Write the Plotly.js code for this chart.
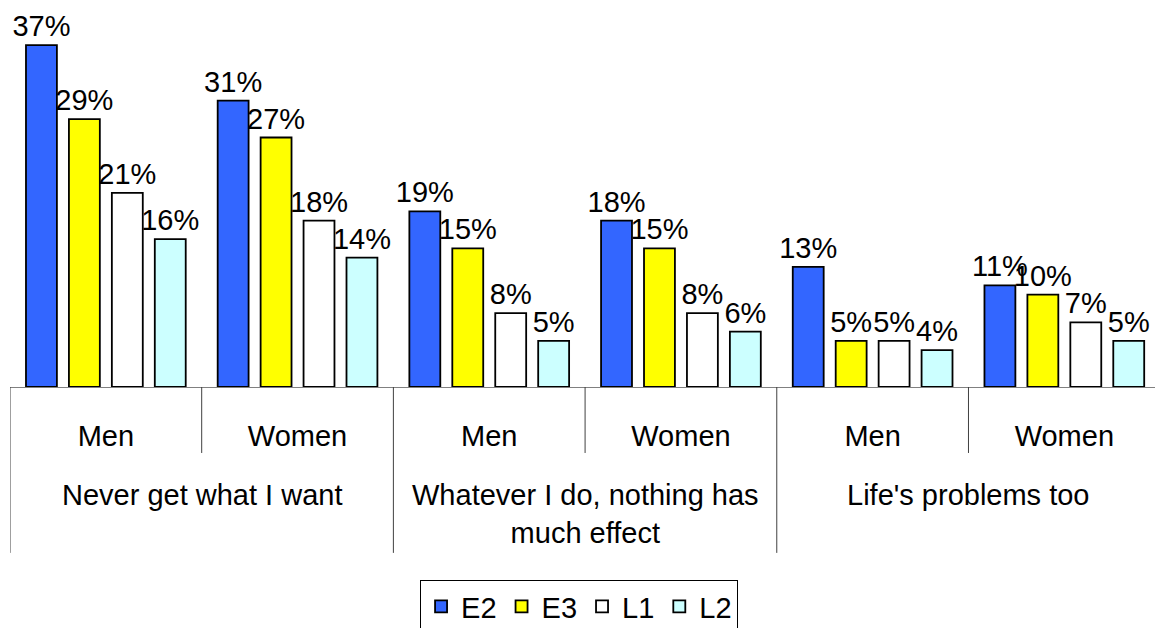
<!DOCTYPE html>
<html>
<head>
<meta charset="utf-8">
<script src="https://cdn.plot.ly/plotly-3.0.1.min.js"></script>
<style>
  html, body { margin: 0; padding: 0; background: #fff; }
  #chart { width: 1155px; height: 628px; }
</style>
</head>
<body>
<div id="chart"></div>
<script>
// categories
var outer = ['Never get what I want', 'Whatever I do, nothing has<br>much effect', "Life's problems too"];
var inner = ['Men', 'Women'];

// series values (%)
var e2 = [37, 31, 19, 18, 13, 11];
var e3 = [29, 27, 15, 15, 5, 10];
var l1 = [21, 18, 8, 8, 5, 7];
var l2 = [16, 14, 5, 6, 4, 5];

var seriesNames = ['E2', 'E3', 'L1', 'L2'];
var seriesVals = [e2, e3, l1, l2];
var seriesColors = ['#3366ff', '#ffff00', '#ffffff', '#ccffff'];

// one x category per (outer, inner) pair
var cats = [], catText = [];
outer.forEach(function (o) {
  inner.forEach(function (s) {
    cats.push(o + ' | ' + s);
    catText.push(s);
  });
});

var font = 'Arial, "Liberation Sans", sans-serif';
var fsize = 29;

var data = seriesNames.map(function (name, i) {
  return {
    type: 'bar',
    name: name,
    x: cats,
    y: seriesVals[i],
    marker: {color: seriesColors[i], line: {color: '#000', width: 1.8}},
    text: seriesVals[i].map(function (v) { return v + '%'; }),
    textposition: 'outside',
    textfont: {family: font, size: fsize, color: '#000'},
    cliponaxis: false,
    constraintext: 'none',
    hoverinfo: 'skip'
  };
});

// group labels and divider lines under the axis
var annotations = outer.map(function (o, i) {
  return {
    text: o, xref: 'x', yref: 'paper',
    x: i * 2 + 0.5, y: -0.239, yanchor: 'top',
    showarrow: false, font: {family: font, size: fsize, color: '#000'}
  };
});

var shapes = [];
for (var k = 0; k <= cats.length; k++) {
  var long = (k % 2 === 0);
  shapes.push({
    type: 'line', xref: 'x', yref: 'paper',
    x0: k - 0.5, x1: k - 0.5, y0: 0, y1: long ? -0.44 : -0.175,
    line: {color: '#404040', width: 1}
  });
}

var layout = {
  width: 1155, height: 628,
  margin: {l: 10, r: 0, t: 10, b: 241, autoexpand: false},
  paper_bgcolor: '#fff', plot_bgcolor: '#fff',
  font: {family: font, size: fsize, color: '#000'},
  barmode: 'group',
  bargap: 0.104,
  bargroupgap: 0.28,
  showlegend: true,
  xaxis: {
    type: 'category',
    range: [-0.5, 5.473],
    tickvals: cats, ticktext: catText,
    ticks: '', ticklabelstandoff: 23,
    showline: true, linecolor: '#808080', linewidth: 1,
    showgrid: false, zeroline: false, fixedrange: true,
    tickfont: {family: font, size: fsize, color: '#000'}
  },
  yaxis: {
    range: [0, 40.8],
    visible: false, showgrid: false, zeroline: false, fixedrange: true
  },
  legend: {
    orientation: 'h', x: 0.497, xanchor: 'center', y: -0.512, yanchor: 'top',
    bordercolor: '#000', borderwidth: 1, bgcolor: '#fff',
    font: {family: font, size: fsize, color: '#000'},
    itemclick: false, itemdoubleclick: false
  },
  annotations: annotations,
  shapes: shapes
};

Plotly.newPlot('chart', data, layout, {displayModeBar: false, staticPlot: true});
</script>
</body>
</html>
